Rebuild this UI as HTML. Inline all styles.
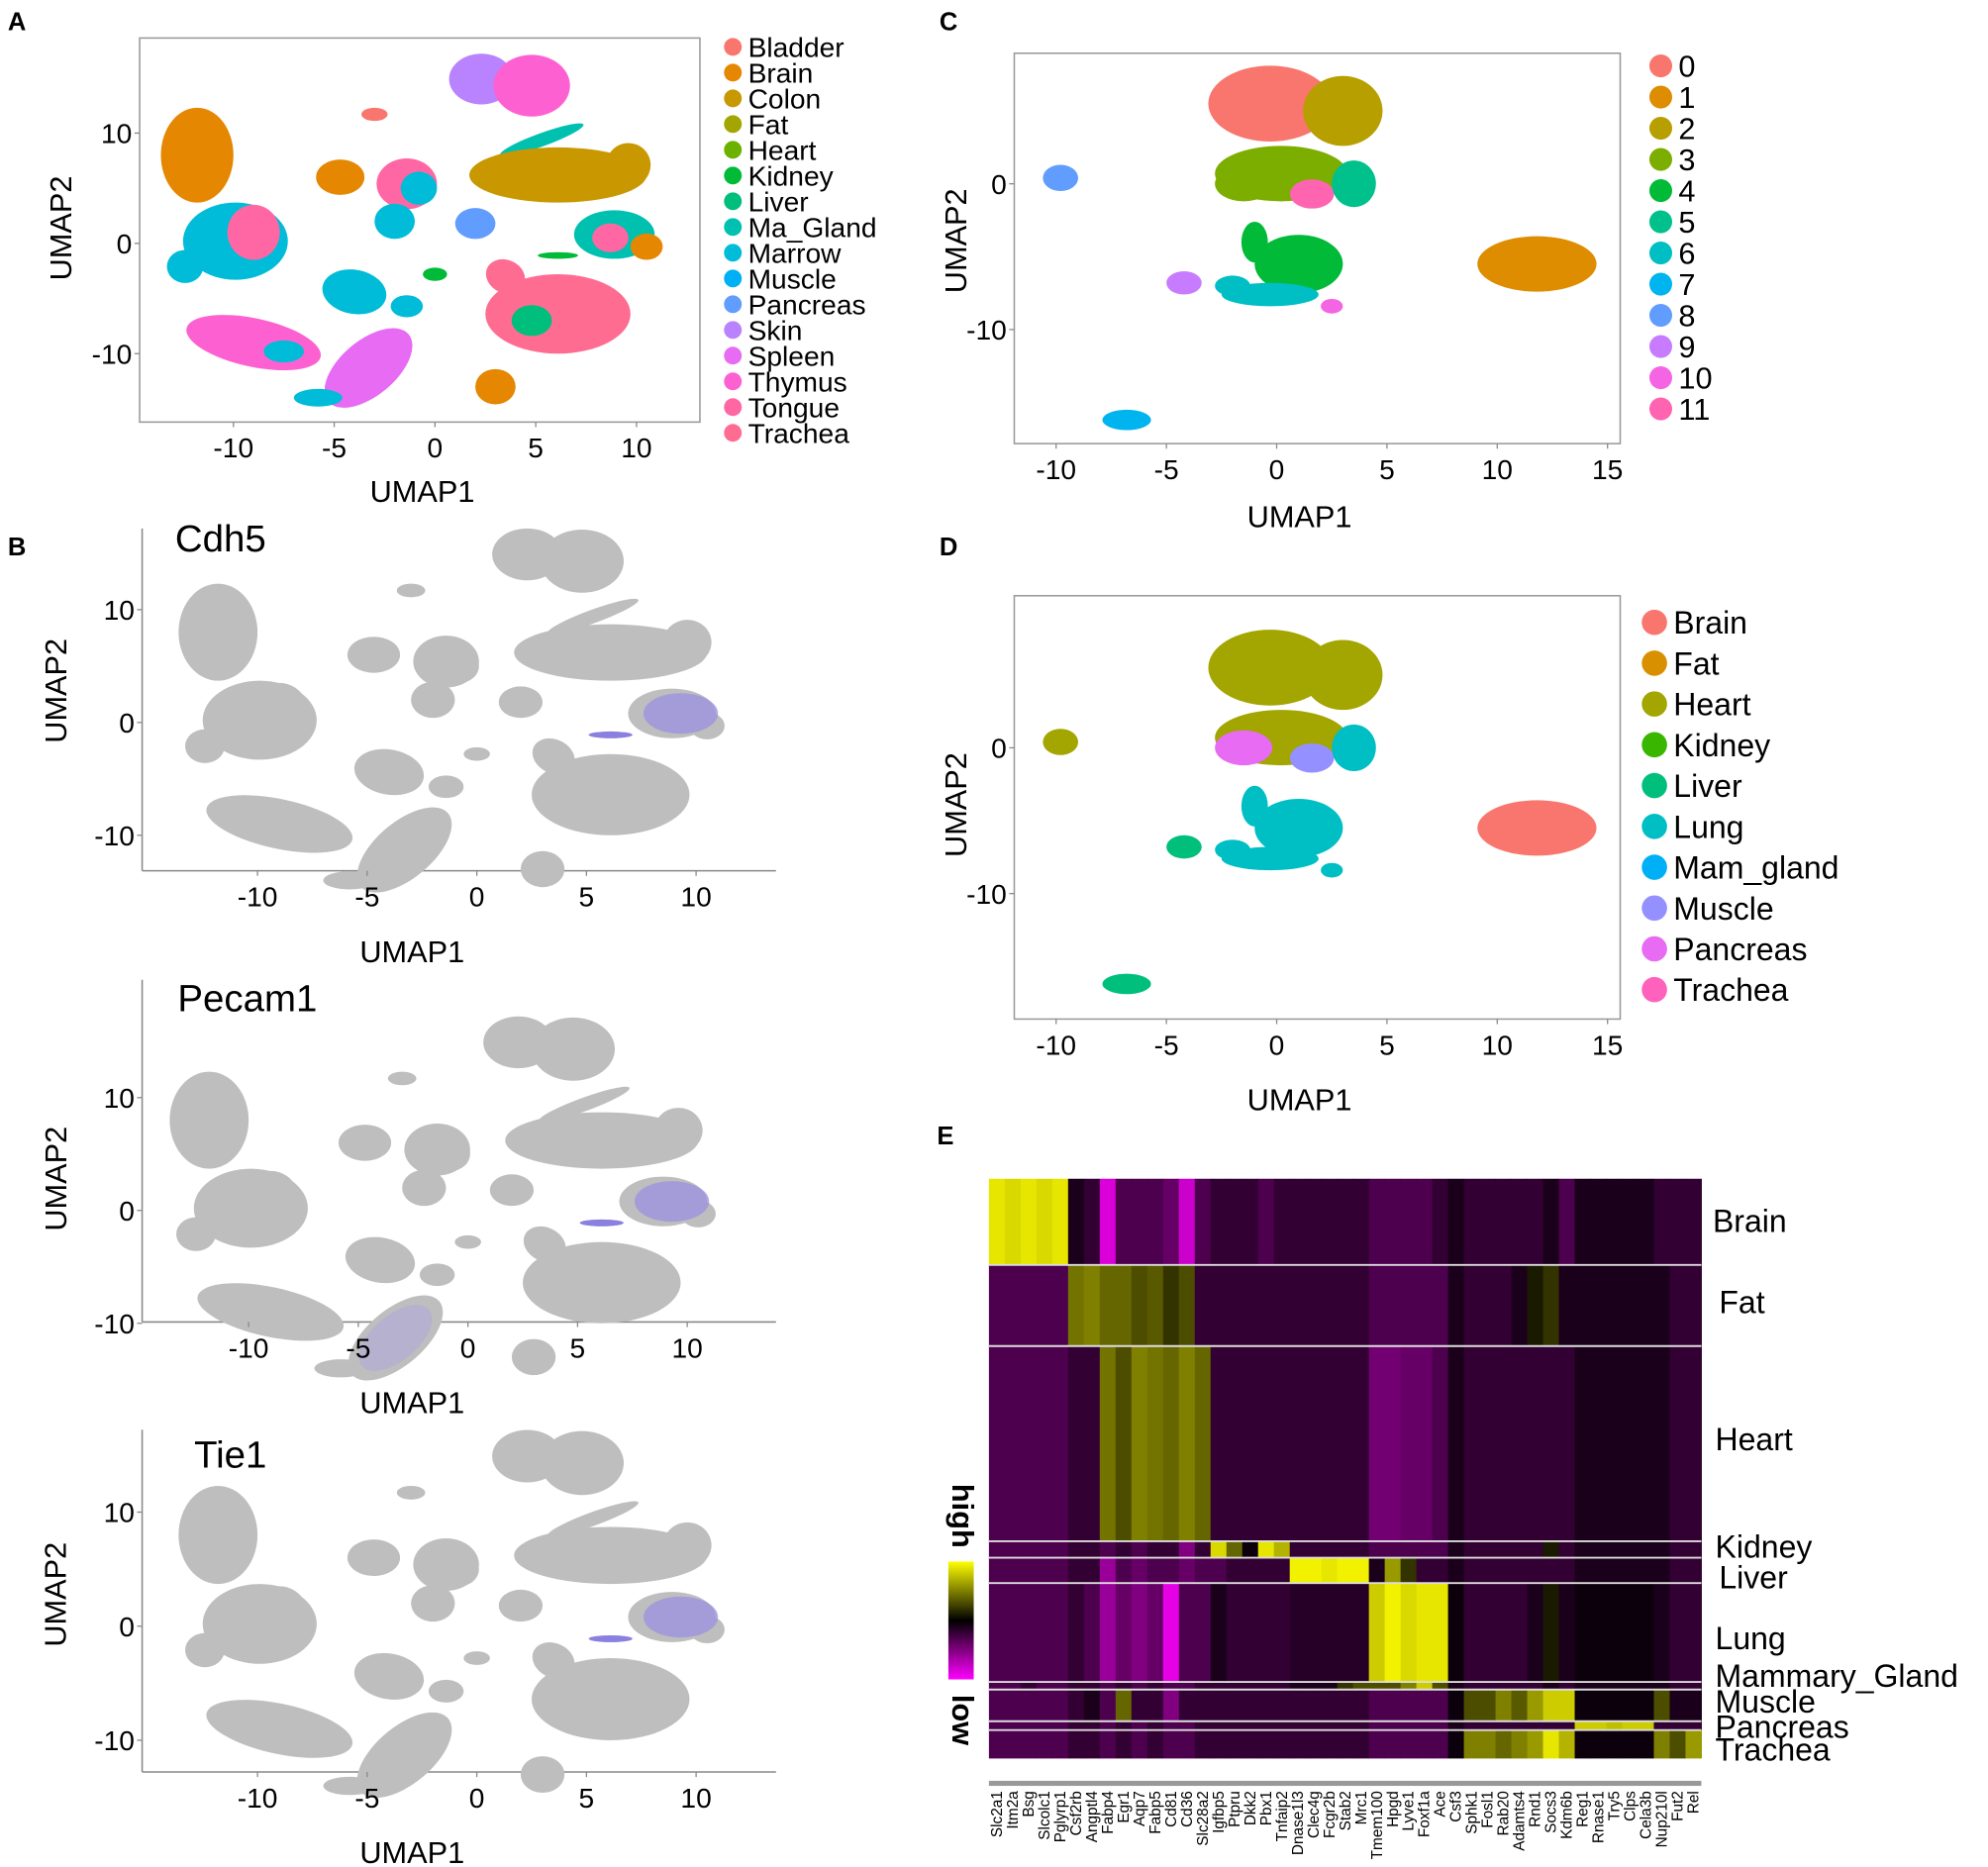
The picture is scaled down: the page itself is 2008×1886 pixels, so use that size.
<!DOCTYPE html>
<html><head><meta charset="utf-8"><style>
html,body{margin:0;padding:0;background:#fff}
svg{display:block}
text{font-family:"Liberation Sans",sans-serif;fill:#000}
</style></head><body>
<svg id="fig" xmlns="http://www.w3.org/2000/svg" width="2008" height="1886" viewBox="0 0 1568 1473">
<rect width="1568" height="1473" fill="#fff"/>
<text x="6" y="24" font-size="20" font-weight="bold">A</text>
<text x="741" y="24" font-size="20" font-weight="bold">C</text>
<text x="6" y="438" font-size="20" font-weight="bold">B</text>
<text x="741" y="438" font-size="20" font-weight="bold">D</text>
<text x="739" y="903" font-size="20" font-weight="bold">E</text>
<g id="layer"></g>
</svg>
<script>
const NS='http://www.w3.org/2000/svg';
const layer=document.getElementById('layer');
function el(tag,attrs,parent,txt){const e=document.createElementNS(NS,tag);for(const k in attrs)e.setAttribute(k,attrs[k]);if(txt!==undefined)e.textContent=txt;(parent||layer).appendChild(e);return e;}

// ---------- Data ----------
const tissuesA=['Bladder','Brain','Colon','Fat','Heart','Kidney','Liver','Ma_Gland','Marrow','Muscle','Pancreas','Skin','Spleen','Thymus','Tongue','Trachea'];
const colorsA=['#F8766D','#E58700','#C99800','#A3A500','#6BB100','#00BA38','#00BF7D','#00C0AF','#00BCD8','#00B0F6','#619CFF','#B983FF','#E76BF3','#FD61D1','#FF67A4','#FF6C91'];
const blobX=[-11.8,2.3,4.8,-3.0,5.3,6.1,9.6,-1.4,-0.8,-4.7,-2.0,2.0,8.9,8.7,10.5,6.1,-9.9,-9.0,-12.4,-4.0,0,-1.4,6.1,3.5,4.8,-9.0,-7.5,-3.3,-5.8,3.0];
const blobY=[8.0,14.9,14.3,11.7,9.4,6.2,7.1,5.4,5.0,6.0,2.0,1.8,0.8,0.5,-0.3,-1.1,0.2,1.0,-2.1,-4.4,-2.8,-5.7,-6.4,-3.0,-7.0,-9.0,-9.8,-11.3,-14.0,-13.0];
const blobRX=[1.8,1.6,1.9,0.65,2.2,4.4,1.1,1.5,0.9,1.2,1.0,1.0,2.0,0.9,0.8,1.0,2.6,1.3,0.9,1.6,0.6,0.8,3.6,1.0,1.0,3.4,1.0,2.6,1.2,1.0];
const blobRY=[4.3,2.3,2.8,0.6,0.6,2.5,2.0,2.3,1.5,1.6,1.6,1.4,2.2,1.3,1.2,0.3,3.5,2.5,1.5,2.0,0.6,1.0,3.6,1.5,1.4,2.2,1.0,2.5,0.8,1.6];
const blobAng=[0,0,0,0,-20,0,0,0,0,0,0,0,0,0,0,0,0,0,0,10,0,0,0,25,0,12,0,-40,0,0];
const blobTissue=[1,11,13,0,7,2,2,14,8,1,8,10,7,14,1,5,8,14,8,8,5,8,15,15,6,13,8,12,8,1];

const clustersC=['0','1','2','3','4','5','6','7','8','9','10','11'];
const colorsC=['#F8766D','#DE8C00','#B79F00','#7CAE00','#00BA38','#00C08B','#00BFC4','#00B4F0','#619CFF','#C77CFF','#F564E3','#FF64B0'];
const tissuesD=['Brain','Fat','Heart','Kidney','Liver','Lung','Mam_gland','Muscle','Pancreas','Trachea'];
const colorsD=['#F8766D','#D89000','#A3A500','#39B600','#00BF7D','#00BFC4','#00B0F6','#9590FF','#E76BF3','#FF62BC'];
const eX=[-0.3,3.0,0.2,-1.5,1.6,3.5,1.0,-0.3,-2.0,11.8,-9.8,-4.2,2.5,-6.8,-1.0];
const eY=[5.5,5.0,0.7,0.0,-0.7,0.0,-5.5,-7.6,-7.0,-5.5,0.4,-6.8,-8.4,-16.2,-4.0];
const eRX=[2.8,1.8,3.0,1.3,1.0,1.0,2.0,2.2,0.8,2.7,0.8,0.8,0.5,1.1,0.6];
const eRY=[2.6,2.4,1.9,1.2,1.0,1.6,2.0,0.8,0.7,1.9,0.9,0.8,0.5,0.7,1.4];
const eClusterC=[0,2,3,3,11,5,4,6,6,1,8,9,10,7,4];
const eTissueD=[2,2,2,8,7,5,5,5,5,0,2,4,5,4,5];

const genes=['Slc2a1','Itm2a','Bsg','Slcolc1','Pglyrp1','Csf2rb','Angptl4','Fabp4','Egr1','Aqp7','Fabp5','Cd81','Cd36','Slc28a2','Igfbp5','Ptpru','Dkk2','Pbx1','Tnfaip2','Dnase1l3','Clec4g','Fcgr2b','Stab2','Mrc1','Tmem100','Hpgd','Lyve1','Foxf1a','Ace','Csf3','Sphk1','Fosl1','Rab20','Adamts4','Rnd1','Socs3','Kdm6b','Reg1','Rnase1','Try5','Clps','Cela3b','Nup210l','Fut2','Rel'];
const hmClusters=['Brain','Fat','Heart','Kidney','Liver','Lung','Mammary_Gland','Muscle','Pancreas','Trachea'];
const hmCellCounts=[68,64,154,13,20,78,6,25,7,22];
const expBrain=[.9,.85,.9,.85,.9,-.1,-.2,-.85,-.3,-.3,-.3,-.4,-.8,-.3,-.2,-.2,-.2,-.3,-.2,-.2,-.2,-.2,-.2,-.2,-.3,-.3,-.3,-.3,-.2,-.1,-.2,-.2,-.2,-.2,-.2,-.1,-.3,-.1,-.1,-.1,-.1,-.1,-.2,-.2,-.2];
const expFat=[-.3,-.3,-.3,-.3,-.3,.45,.5,.4,.4,.3,.35,.2,.3,-.2,-.2,-.2,-.2,-.2,-.2,-.2,-.2,-.2,-.2,-.2,-.3,-.3,-.3,-.3,-.3,-.1,-.2,-.2,-.2,-.1,.1,.2,-.1,-.1,-.1,-.1,-.1,-.1,-.1,-.2,-.2];
const expHeart=[-.3,-.3,-.3,-.3,-.3,-.2,-.2,.45,.3,.5,.45,.4,.5,.4,-.2,-.2,-.2,-.2,-.2,-.2,-.2,-.2,-.2,-.2,-.45,-.45,-.4,-.4,-.3,-.1,-.2,-.2,-.2,-.2,-.2,-.2,-.2,-.1,-.1,-.1,-.1,-.1,-.1,-.2,-.2];
const expKidney=[-.3,-.3,-.3,-.3,-.3,-.2,-.2,-.3,-.2,-.3,-.2,-.2,-.5,-.2,.85,.4,-.05,.9,.7,-.2,-.2,-.2,-.2,-.2,-.3,-.3,-.3,-.3,-.3,-.1,-.2,-.2,-.2,-.2,-.2,.1,-.2,-.1,-.1,-.1,-.1,-.1,-.1,-.2,-.2];
const expLiver=[-.3,-.3,-.3,-.3,-.3,-.2,-.2,-.6,-.3,-.4,-.3,-.3,-.4,-.3,-.3,-.2,-.2,-.2,-.2,.95,.95,.9,.95,.95,-.1,.6,.2,-.2,-.2,-.1,-.2,-.2,-.2,-.2,-.2,-.2,-.2,-.1,-.1,-.1,-.1,-.1,-.1,-.2,-.2];
const expLung=[-.3,-.3,-.3,-.3,-.3,-.2,-.3,-.6,-.4,-.5,-.4,-.9,-.3,-.3,-.1,-.2,-.2,-.2,-.2,-.15,-.15,-.15,-.15,-.15,.8,.95,.85,.9,.9,-.05,-.2,-.2,-.2,-.2,-.1,.1,-.1,-.05,-.05,-.05,-.05,-.05,-.1,-.2,-.2];
const expMam=[-.3,-.3,-.2,-.3,-.3,-.2,-.2,-.3,-.2,-.3,-.2,-.3,-.3,-.2,-.2,-.2,-.2,-.2,-.2,-.1,-.1,-.1,.2,.3,.3,.3,.5,.8,.3,-.1,-.2,-.2,-.2,-.2,-.2,-.1,-.2,-.1,-.1,-.1,-.1,-.1,-.1,-.2,-.2];
const expMuscle=[-.3,-.3,-.3,-.3,-.3,-.2,-.1,-.3,.4,-.2,-.2,-.5,-.2,-.2,-.2,-.2,-.2,-.2,-.2,-.2,-.2,-.2,-.2,-.2,-.3,-.3,-.3,-.3,-.3,-.05,.3,.3,.5,.35,.6,.8,.8,-.05,-.05,-.05,-.05,-.05,.3,-.1,-.1];
const expPancreas=[-.3,-.3,-.3,-.3,-.3,-.2,-.2,-.3,-.2,-.3,-.2,-.3,-.3,-.2,-.2,-.2,-.2,-.2,-.2,-.2,-.2,-.2,-.2,-.2,-.3,-.3,-.3,-.3,-.3,-.1,-.2,-.2,-.2,-.2,-.2,-.2,-.2,.8,.8,.75,.8,.8,-.2,-.2,-.2];
const expTrachea=[-.3,-.3,-.3,-.3,-.3,-.2,-.2,-.3,-.2,-.3,-.2,-.3,-.3,-.2,-.2,-.2,-.2,-.2,-.2,-.2,-.2,-.2,-.2,-.2,-.3,-.3,-.3,-.3,-.3,-.05,.5,.5,.4,.5,.6,.9,.7,-.05,-.05,-.05,-.05,-.05,.5,.3,.6];
const expMatrix=[expBrain,expFat,expHeart,expKidney,expLiver,expLung,expMam,expMuscle,expPancreas,expTrachea];

function makeScale(x0px,xPerUnit,y0px,yPerUnit){return {x:v=>x0px+v*xPerUnit,y:v=>y0px-v*yPerUnit,kx:xPerUnit,ky:yPerUnit};}
function drawBlobs(g,s,X,Y,RX,RY,ANG,colorFn){
  for(let i=0;i<X.length;i++){
    const e=el('ellipse',{cx:s.x(X[i]),cy:s.y(Y[i]),rx:RX[i]*s.kx,ry:RY[i]*s.ky,fill:colorFn(i),transform:`rotate(${ANG?ANG[i]:0} ${s.x(X[i])} ${s.y(Y[i])})`},g);
    
    
  }
}
function xTicks(g,s,vals,yAxis,fs){
  vals.forEach(v=>{el('line',{x1:s.x(v),x2:s.x(v),y1:yAxis,y2:yAxis+4,stroke:'#888','stroke-width':1},g);
    const t=el('text',{x:s.x(v),y:yAxis+fs+6,'font-size':fs,'text-anchor':'middle'},g,String(v));
    });
}
function yTicks(g,s,vals,xAxis,fs){
  vals.forEach(v=>{el('line',{x1:xAxis-4,x2:xAxis,y1:s.y(v),y2:s.y(v),stroke:'#888','stroke-width':1},g);
    const t=el('text',{x:xAxis-6,y:s.y(v)+fs*0.36,'font-size':fs,'text-anchor':'end'},g,String(v));
    });
}
function axisTitles(g,xx,xy,yx,yy,fs){
  const a=el('text',{x:xx,y:xy,'font-size':fs,'text-anchor':'middle'},g,'UMAP1');
  
  const b=el('text',{x:yx,y:yy,'font-size':fs,'text-anchor':'middle',transform:`rotate(-90 ${yx} ${yy})`},g,'UMAP2');
  
}
function legend(g,names,cols,x,y0,dy,fs,r){
  names.forEach((n,i)=>{
    const gg=el('g',{},g);
    
    el('circle',{cx:x,cy:y0+i*dy,r:r,fill:cols[i]},gg);
    el('text',{x:x+r+5,y:y0+i*dy+fs*0.36,'font-size':fs},gg,n);
  });
}

// Panel A
(function(){
  const g=el('g',{});
  const s=makeScale(343,15.9,192,8.7);
  el('rect',{x:110,y:30,width:442,height:303,fill:'none',stroke:'#999','stroke-width':1.2},g);
  drawBlobs(g,s,blobX,blobY,blobRX,blobRY,blobAng,i=>colorsA[blobTissue[i]]);
  xTicks(g,s,[-10,-5,0,5,10],333,22);
  yTicks(g,s,[10,0,-10],110,22);
  axisTitles(g,333,396,56,180,24);
  legend(g,tissuesA,colorsA,578,37,20.3,22,7);
})();

// Panel B
const bGenes=['Cdh5','Pecam1','Tie1'];
const bParams=[[376,17.3,570,8.9,687,112],[369,17.3,955,8.9,1043,112],[376,17.3,1283,9.0,1398,112]];
const bTitleX=[138,140,153],bTitleY=[435,798,1158];
bParams.forEach((p,k)=>{
  const g=el('g',{});
  const s=makeScale(p[0],p[1],p[2],p[3]);
  const top=p[4]-270;
  el('line',{x1:p[5],x2:p[5],y1:top,y2:p[4],stroke:'#888','stroke-width':1.2},g);
  el('line',{x1:p[5],x2:612,y1:p[4],y2:p[4],stroke:'#888','stroke-width':1.2},g);
  drawBlobs(g,s,blobX,blobY,blobRX,blobRY,blobAng,()=> '#bebebe');
  const h=el('ellipse',{cx:s.x(9.3),cy:s.y(0.8),rx:1.7*s.kx,ry:1.8*s.ky,fill:'#9a90e0','fill-opacity':0.75},g);
  
  el('ellipse',{cx:s.x(6.1),cy:s.y(-1.1),rx:1.0*s.kx,ry:0.3*s.ky,fill:'#8a80e0'},g);
  if(k===1){el('ellipse',{cx:s.x(-3.3),cy:s.y(-11.3),rx:2.0*s.kx,ry:2.0*s.ky,fill:'#b0a8d8','fill-opacity':0.6,transform:`rotate(-40 ${s.x(-3.3)} ${s.y(-11.3)})`},g);}
  const t=el('text',{x:bTitleX[k],y:bTitleY[k],'font-size':30},g,bGenes[k]);
  
  xTicks(g,s,[-10,-5,0,5,10],p[4],22);
  yTicks(g,s,[10,0,-10],p[5],22);
  axisTitles(g,325,p[4]+72,52,p[2]-25,24);
});

// Panels C & D
function endoPanel(name,y0,boxTop,boxBot,boxLeft,colorFn,names,cols,lx,ly,ldy,lfs,lr,titleY){
  const g=el('g',{});
  const s=makeScale(1007,17.4,y0,11.5);
  el('rect',{x:boxLeft,y:boxTop,width:1278-boxLeft,height:boxBot-boxTop,fill:'none',stroke:'#999','stroke-width':1.2},g);
  drawBlobs(g,s,eX,eY,eRX,eRY,null,colorFn);
  xTicks(g,s,[-10,-5,0,5,10,15],boxBot,22);
  yTicks(g,s,[0,-10],boxLeft,22);
  axisTitles(g,1025,titleY,762,y0+45,24);
  legend(g,names,cols,lx,ly,ldy,lfs,lr);
}
endoPanel('panel-c-umap-cluster',145,42,350,800,i=>colorsC[eClusterC[i]],clustersC,colorsC,1310,52,24.6,24,9,416);
endoPanel('panel-d-umap-tissue',590,470,804,800,i=>colorsD[eTissueD[i]],tissuesD,colorsD,1305,491,32.2,25,10,876);

// Panel E heatmap
(function(){
  const g=el('g',{});
  const X0=780,X1=1342,Y0=930,Y1=1387;
  const total=hmCellCounts.reduce((a,b)=>a+b,0);
  const cw=(X1-X0)/genes.length;
  function col(v){
    v=Math.max(-1,Math.min(1,v));
    let r,gg,b;
    if(v>=0){r=255*v;gg=255*v;b=0;}else{const a=-v;r=255*a;gg=0;b=255*a;}
    return `rgb(${Math.round(r)},${Math.round(gg)},${Math.round(b)})`;
  }
  let y=Y0;
  const bounds=[];
  hmClusters.forEach((c,ci)=>{
    const h=hmCellCounts[ci]/total*(Y1-Y0);
    genes.forEach((gname,gi)=>{
      const r=el('rect',{x:X0+gi*cw,y:y,width:cw+0.4,height:h+0.4,fill:col(expMatrix[ci][gi])},g);
      
      
    });
    bounds.push([y,h]);
    y+=h;
  });
  bounds.slice(1).forEach(b=>el('line',{x1:X0,x2:X1,y1:b[0],y2:b[0],stroke:'#ddd','stroke-width':1.5},g));
  const labelY=[963,1027,1135,1220,1244,1292,1322,1342,1362,1380];
  const labelX=[1351,1356,1353,1353,1356,1353,1353,1353,1353,1353];
  hmClusters.forEach((c,ci)=>{
    const t=el('text',{x:labelX[ci],y:labelY[ci]+9,'font-size':25},g,c);
    
  });
  el('rect',{x:X0,y:1405,width:X1-X0,height:4,fill:'#999'},g);
  genes.forEach((gname,gi)=>{
    const cx=X0+gi*cw+cw/2+4;
    const t=el('text',{x:cx,y:1413,'font-size':12,'text-anchor':'end',transform:`rotate(-90 ${cx} 1413)`},g,gname);
    
  });
  const defs=el('defs',{},g);
  const lg=el('linearGradient',{id:'cb',x1:0,y1:0,x2:0,y2:1},defs);
  el('stop',{offset:'0','stop-color':'#ffff00'},lg);el('stop',{offset:'0.5','stop-color':'#000'},lg);el('stop',{offset:'1','stop-color':'#ff00ff'},lg);
  const cb=el('rect',{x:748,y:1232,width:20,height:93,fill:'url(#cb)'},g);
  
  const hi=el('text',{x:751,y:1196,'font-size':24,'font-weight':'bold','text-anchor':'middle',transform:'rotate(90 751 1196)'},g,'high');
  
  const lo=el('text',{x:751,y:1357,'font-size':24,'font-weight':'bold','text-anchor':'middle',transform:'rotate(90 751 1357)'},g,'low');
  
})();
</script>
</body></html>
